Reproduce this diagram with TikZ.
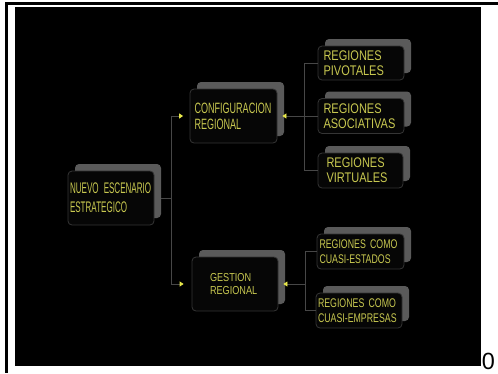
\documentclass[tikz,border=0pt]{standalone}
\usepackage{fontspec}
\setmainfont{Liberation Sans}
\newfontfamily\letraN[FakeStretch=0.525]{Liberation Sans}
\newfontfamily\letraC[FakeStretch=0.605]{Liberation Sans}
\newfontfamily\letraA[FakeStretch=0.79]{Liberation Sans}
\newfontfamily\letraE[FakeStretch=0.70]{Liberation Sans}
\usepackage{tikz}
\usetikzlibrary{arrows.meta,shadows}
\definecolor{amarillo}{HTML}{C8C850}
\definecolor{punta}{HTML}{E8E84A}
\definecolor{sombra}{HTML}{5A5A5A}
\definecolor{borde}{HTML}{353535}
\definecolor{linea}{HTML}{474747}
\definecolor{fondo}{HTML}{060606}
\newcommand{\espacio}{\spaceskip=2bp\relax}

\begin{document}
\begin{tikzpicture}[x=1bp,y=-1bp,
  bloque/.style={draw=borde,fill=fondo,rounded corners=4bp,line width=0.8bp,
    text=amarillo,align=left,inner ysep=0pt,
    drop shadow={shadow xshift=7bp,shadow yshift=7bp,fill=sombra,opacity=1}},
  conector/.style={draw=linea,line width=0.8bp},
  flecha/.style={conector,-{Triangle[length=4bp,width=5bp,color=punta]}}]
  \useasboundingbox (0,0) rectangle (498,373);
  % page and frame
  \fill[white] (0,0) rectangle (498,373);
  \fill[black] (5,2) rectangle (498,5);
  \fill[black] (5,2) rectangle (8,373);
  \fill[black] (15,7) rectangle (481,366);
  % boxes
  \node[bloque,font=\letraN\fontsize{15.4}{19}\selectfont\espacio,minimum width=86bp,minimum height=54bp,
    inner xsep=2bp,text width=82bp] (nuevo) at (111,198) {NUEVO ESCENARIO\\ESTRATEGICO};
  \node[bloque,font=\letraC\fontsize{15}{16}\selectfont,minimum width=87bp,minimum height=54bp,
    inner xsep=4.5bp,text width=78bp] (config) at (233.5,116) {CONFIGURACION\\REGIONAL};
  \node[bloque,font=\letraA\fontsize{11.6}{14}\selectfont,minimum width=86bp,minimum height=54bp,
    inner xsep=18bp,text width=50bp] (gestion) at (235,284) {GESTION\\REGIONAL};
  \node[bloque,font=\letraA\fontsize{14}{15}\selectfont,minimum width=86bp,minimum height=34bp,
    inner xsep=5.5bp,text width=75bp] (pivotales) at (361,63) {REGIONES\\PIVOTALES};
  \node[bloque,font=\letraA\fontsize{14}{15}\selectfont,minimum width=86bp,minimum height=35bp,
    inner xsep=5.5bp,text width=75bp] (asociativas) at (361,116) {REGIONES\\ASOCIATIVAS};
  \node[bloque,font=\letraA\fontsize{14}{15}\selectfont,minimum width=85bp,minimum height=35bp,
    inner xsep=8.5bp,text width=68bp] (virtuales) at (360.5,170.5) {REGIONES\\VIRTUALES};
  \node[bloque,font=\letraE\fontsize{12.6}{15.3}\selectfont\espacio,minimum width=87bp,minimum height=35bp,
    inner xsep=2.5bp,text width=82bp] (estados) at (360.5,251.5) {REGIONES COMO\\CUASI-ESTADOS};
  \node[bloque,font=\letraE\fontsize{12.6}{15.3}\selectfont\espacio,minimum width=86bp,minimum height=35bp,
    inner xsep=2bp,text width=82bp] (empresas) at (359,310.5) {REGIONES COMO\\CUASI-EMPRESAS};
  % connectors
  \coordinate (tronco) at (171,198);
  \draw[conector] ([xshift=7bp]nuevo.east) -- (tronco);
  \draw[flecha,shorten >=6.5bp] (tronco) |- (config.west);
  \draw[flecha,shorten >=8bp] (tronco) |- (gestion.west);
  \coordinate (ramaC) at (304,116);
  \draw[flecha,shorten >=5bp] (ramaC) -- (config.east);
  \draw[conector] (ramaC) |- (pivotales.west);
  \draw[conector] (ramaC) -- (asociativas.west);
  \draw[conector] (ramaC) |- (virtuales.west);
  \coordinate (ramaG) at (305,284);
  \draw[flecha,shorten >=5bp] (ramaG) -- (gestion.east);
  \draw[conector] (ramaG) |- (estados.west);
  \draw[conector] (ramaG) |- (empresas.west);
  \node[font=\fontsize{23.5}{24}\selectfont,anchor=base east,inner sep=0pt] (cero) at (495,369.5) {0};
\end{tikzpicture}
\end{document}
